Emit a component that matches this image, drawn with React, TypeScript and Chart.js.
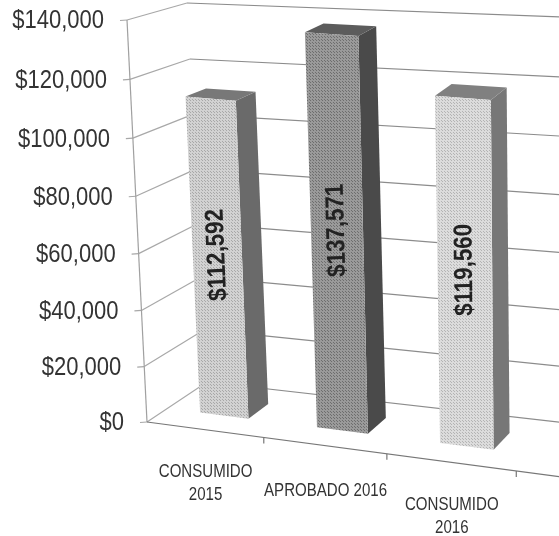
import React, { useEffect, useRef } from "react";
import { Chart, registerables } from "chart.js";

Chart.register(...registerables);

const categories: (string | string[])[] = [["CONSUMIDO", "2015"], "APROBADO 2016", ["CONSUMIDO", "2016"], ""];
const values: (number | null)[] = [112592, 137571, 119560, null];
const frontLight = ["#d2d2d2", "#9a9a9a", "#dcdcdc"];
const frontDark = ["#a8a8a8", "#6e6e6e", "#b4b4b4"];
const sideColors = ["#6a6a6a", "#4a4a4a", "#777777"];
const topColors = ["#787878", "#5c5c5c", "#808080"];

type Pt = [number, number];
// Corners of the 3D box on the page: [u][v] for the front (F) and back (B) planes
const F00: Pt = [147, 422], F01: Pt = [127, 20], F10: Pt = [652, 489], F11: Pt = [658, 65];
const B00: Pt = [207, 382], B01: Pt = [187, 3], B10: Pt = [690, 437], B11: Pt = [695, 22];
const BAR_D0 = 0.34, BAR_D1 = 0.69;

const mix = (a: Pt, b: Pt, t: number): Pt => [a[0] + (b[0] - a[0]) * t, a[1] + (b[1] - a[1]) * t];
function project(uRaw: number, vRaw: number, d: number): Pt {
  const u = uRaw * (1 - 0.1 * (1 - uRaw));
  const v = vRaw * (1 - 0.04 * (1 - vRaw));
  const front = mix(mix(F00, F10, u), mix(F01, F11, u), v);
  const back = mix(mix(B00, B10, u), mix(B01, B11, u), v);
  return mix(front, back, d);
}

function halftone(light: string, dark: string): CanvasPattern {
  const c = document.createElement("canvas");
  c.width = 3;
  c.height = 3;
  const g = c.getContext("2d")!;
  g.fillStyle = light;
  g.fillRect(0, 0, 3, 3);
  g.fillStyle = dark;
  g.fillRect(0, 0, 1, 1);
  g.fillRect(1, 1, 1, 1);
  return g.createPattern(c, "repeat")!;
}

function poly(ctx: CanvasRenderingContext2D, pts: Pt[], fill: any) {
  ctx.beginPath();
  pts.forEach((p, i) => (i ? ctx.lineTo(p[0], p[1]) : ctx.moveTo(p[0], p[1])));
  ctx.closePath();
  ctx.fillStyle = fill;
  ctx.fill();
}

function line(ctx: CanvasRenderingContext2D, a: Pt, b: Pt) {
  ctx.beginPath();
  ctx.moveTo(a[0], a[1]);
  ctx.lineTo(b[0], b[1]);
  ctx.stroke();
}

// Narrow text: the scan's face is a condensed sans, so squeeze it horizontally.
function narrowText(ctx: CanvasRenderingContext2D, s: string, x: number, y: number, sx: number) {
  ctx.save();
  ctx.translate(x, y);
  ctx.scale(sx, 1);
  ctx.fillText(s, 0, 0);
  ctx.restore();
}

const box3d = {
  id: "box3d",
  beforeDatasetsDraw(chart: any) {
    const { ctx, chartArea: a, scales } = chart;
    const y = scales.y, x = scales.x;
    const toV = (px: number) => (a.bottom - px) / (a.bottom - a.top);
    const toU = (px: number) => (px - a.left) / (a.right - a.left);
    ctx.save();
    ctx.lineWidth = 1.2;
    ctx.fillStyle = "#333333";
    ctx.font = "25px 'Liberation Sans'";
    ctx.textAlign = "right";
    ctx.textBaseline = "middle";
    y.ticks.forEach((t: any) => {
      const v = toV(y.getPixelForValue(t.value));
      const f = project(0, v, 0);
      const b = project(0, v, 1);
      ctx.strokeStyle = "#a8a8a8";
      line(ctx, [f[0] - 7, f[1] + 0.5], f);
      line(ctx, f, b);
      ctx.strokeStyle = "#8c8c8c";
      line(ctx, b, project(1, v, 1));
      narrowText(ctx, t.label, f[0] - 23, f[1] + 1.5, 0.88);
    });
    // value axis and floor front edge
    ctx.strokeStyle = "#a0a0a0";
    line(ctx, project(0, 0, 0), project(0, 1, 0));
    ctx.strokeStyle = "#777777";
    line(ctx, project(0, 0, 0), project(1, 0, 0));
    const n = categories.length;
    for (let i = 1; i <= n; i++) {
      const p = project(i / n, 0, 0);
      line(ctx, p, [p[0], p[1] + 6]);
    }
    // category labels
    ctx.fillStyle = "#333333";
    ctx.font = "17.5px 'Liberation Sans'";
    ctx.textAlign = "center";
    categories.forEach((c, i) => {
      const p = project(toU(x.getPixelForValue(i)), 0, 0);
      const lines = Array.isArray(c) ? c : [c];
      lines.forEach((s, k) => {
        narrowText(ctx, s, p[0] + 1, p[1] + (lines.length === 1 ? 46 : 42.5) + k * 23, 0.86);
      });
    });
    ctx.restore();
  },
  beforeDatasetDraw(chart: any, args: any) {
    const { ctx, chartArea: a } = chart;
    const toV = (px: number) => (a.bottom - px) / (a.bottom - a.top);
    const toU = (px: number) => (px - a.left) / (a.right - a.left);
    const ds = chart.data.datasets[args.index];
    args.meta.data.forEach((el: any, i: number) => {
      if (values[i] == null) return;
      const u0 = toU(el.x - el.width / 2), u1 = toU(el.x + el.width / 2);
      const v0 = toV(el.base), v1 = toV(el.y);
      const fbl = project(u0, v0, BAR_D0), fbr = project(u1, v0, BAR_D0);
      const ftl = project(u0, v1, BAR_D0), ftr = project(u1, v1, BAR_D0);
      const bbr = project(u1, v0, BAR_D1), btr = project(u1, v1, BAR_D1), btl = project(u0, v1, BAR_D1);
      poly(ctx, [fbr, ftr, btr, bbr], sideColors[i]);
      poly(ctx, [ftl, btl, btr, ftr], topColors[i]);
      poly(ctx, [fbl, ftl, ftr, fbr], ds.backgroundColor[i]);
      // value label, running up the front face
      const um = (u0 + u1) / 2;
      const c = project(um, v1 * 0.515, BAR_D0);
      const up = project(um, v1, BAR_D0);
      ctx.save();
      ctx.translate(c[0], c[1]);
      ctx.rotate(Math.atan2(up[1] - c[1], up[0] - c[0]));
      ctx.scale(0.86, 1);
      ctx.fillStyle = "#222222";
      ctx.font = "bold 26px 'Liberation Sans'";
      ctx.textAlign = "center";
      ctx.textBaseline = "middle";
      ctx.fillText("$" + (values[i] as number).toLocaleString("en-US"), 0, 0);
      ctx.restore();
    });
    return false;
  },
};

export default function App() {
  const ref = useRef<HTMLCanvasElement>(null);
  useEffect(() => {
    document.body.style.margin = "0";
    const chart = new Chart(ref.current!, {
      type: "bar",
      data: {
        labels: categories as any,
        datasets: [
          {
            data: values as any,
            backgroundColor: frontLight.map((l, i) => halftone(l, frontDark[i])) as any,
            barPercentage: 0.42,
            categoryPercentage: 1,
          },
        ],
      },
      options: {
        responsive: false,
        animation: false,
        layout: { padding: 0 },
        plugins: { legend: { display: false }, tooltip: { enabled: false } },
        scales: {
          x: { display: false },
          y: {
            display: false,
            min: 0,
            max: 140000,
            ticks: { stepSize: 20000, callback: (v: any) => "$" + Number(v).toLocaleString("en-US") },
          },
        },
      },
      plugins: [box3d as any],
    });
    return () => chart.destroy();
  }, []);
  return <canvas ref={ref} width={559} height={536} style={{ display: "block", filter: "blur(0.5px)" }} />;
}
